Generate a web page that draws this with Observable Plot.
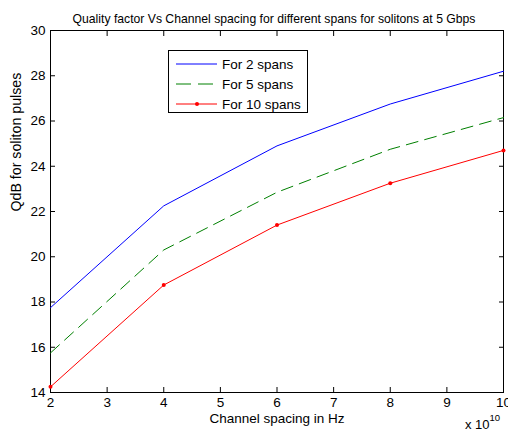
<!DOCTYPE html>
<html>
<head>
<meta charset="utf-8">
<script src="https://cdn.jsdelivr.net/npm/d3@7"></script>
<script src="https://cdn.jsdelivr.net/npm/@observablehq/plot@0.6"></script>
<style>
  body { margin: 0; background: #fff; font-family: "Liberation Sans", Arial, sans-serif; }
  #wrap { position: relative; width: 508px; height: 436px; }
  #legend { position: absolute; left: 168px; top: 50px; width: 140px; height: 63px; border: 1px solid #000; background: #fff; box-sizing: border-box; font-size: 13.5px; color: #000; }
  .row { position: absolute; left: 0; height: 14px; display: flex; align-items: center; white-space: nowrap; }
  .row svg { margin-left: 7px; margin-right: 5px; flex: none; }
</style>
</head>
<body>
<div id="wrap"></div>
<script>
const spacingHz = [2e10, 4e10, 6e10, 8e10, 10e10];
const span2 = [17.75, 22.25, 24.9, 26.75, 28.2];
const span5 = [15.75, 20.3, 22.85, 24.75, 26.15];
const span10 = [14.25, 18.75, 21.4, 23.25, 24.7];
const seriesNames = ["For 2 spans", "For 5 spans", "For 10 spans"];
const xTicks = [2e10, 3e10, 4e10, 5e10, 6e10, 7e10, 8e10, 9e10, 10e10];
const yTicks = [14, 16, 18, 20, 22, 24, 26, 28, 30];
const titleText = "Quality factor Vs Channel spacing for different spans for solitons at 5 Gbps";
const xLabel = "Channel spacing in Hz";
const yLabel = "QdB for soliton pulses";

const colors = ["#0000ff", "#008000", "#ff0000"];
const dashes = [null, "12,7", null];
const rows = [span2, span5, span10];
const data = [];
rows.forEach((vals, s) => vals.forEach((v, i) => data.push({x: spacingHz[i], y: v, s: seriesNames[s]})));

const font = "Liberation Sans, Arial, sans-serif";
const marks = [
  Plot.frame({stroke: "#000"}),
  Plot.axisX(xTicks, {anchor: "bottom", tickSize: 0, tickPadding: 5, tickFormat: d => String(d / 1e10), label: null, fontSize: 13.5, fill: "#000"}),
  Plot.axisX(xTicks, {anchor: "bottom", tickSize: -5, tickFormat: () => "", label: null, stroke: "#000"}),
  Plot.axisX(xTicks, {anchor: "top", tickSize: -5, tickFormat: () => "", label: null, stroke: "#000"}),
  Plot.axisY(yTicks, {anchor: "left", tickSize: 0, tickPadding: 5, label: null, fontSize: 13.5, fill: "#000"}),
  Plot.axisY(yTicks, {anchor: "left", tickSize: -5, tickFormat: () => "", label: null, stroke: "#000"}),
  Plot.axisY(yTicks, {anchor: "right", tickSize: -5, tickFormat: () => "", label: null, stroke: "#000"})
];
seriesNames.forEach((name, s) => {
  marks.push(Plot.line(data.filter(d => d.s === name), {x: "x", y: "y", stroke: colors[s], strokeWidth: 1, strokeDasharray: dashes[s]}));
});
marks.push(Plot.dot(data.filter(d => d.s === seriesNames[2]), {x: "x", y: "y", r: 2, fill: colors[2], stroke: null}));
marks.push(
  Plot.text([titleText], {frameAnchor: "top", dx: -3, dy: -16, text: d => d, fontSize: 12.2, fill: "#000"}),
  Plot.text([xLabel], {frameAnchor: "bottom", dy: 30, text: d => d, fontSize: 13.5, fill: "#000"}),
  Plot.text([yLabel], {frameAnchor: "left", dx: -34, rotate: -90, text: d => d, fontSize: 14.2, fill: "#000"}),
  Plot.text(["x 10"], {frameAnchor: "bottom-right", dx: -14, dy: 36, textAnchor: "end", text: d => d, fontSize: 13, fill: "#000"}),
  Plot.text(["10"], {frameAnchor: "bottom-right", dx: -14, dy: 28, textAnchor: "start", text: d => d, fontSize: 9.5, fill: "#000"})
);

const chart = Plot.plot({
  width: 508, height: 436,
  marginLeft: 50, marginRight: 5, marginTop: 30, marginBottom: 44,
  style: {fontFamily: font, fontSize: "12px", color: "#000", background: "#fff"},
  x: {domain: [2e10, 10e10]},
  y: {domain: [14, 30]},
  marks
});
const wrap = document.getElementById("wrap");
wrap.appendChild(chart);

const legend = document.createElement("div");
legend.id = "legend";
seriesNames.forEach((name, s) => {
  const row = document.createElement("div");
  row.className = "row";
  row.style.top = (6 + s * 20) + "px";
  const dash = dashes[s] ? ` stroke-dasharray="15,7"` : "";
  const dot = s === 2 ? `<circle cx="21" cy="7" r="2" fill="${colors[s]}"/>` : "";
  row.innerHTML = `<svg width="41" height="14"><line x1="0" y1="7" x2="41" y2="7" stroke="${colors[s]}" stroke-width="1"${dash}/>${dot}</svg><span>${name}</span>`;
  legend.appendChild(row);
});
wrap.appendChild(legend);
</script>
</body>
</html>
